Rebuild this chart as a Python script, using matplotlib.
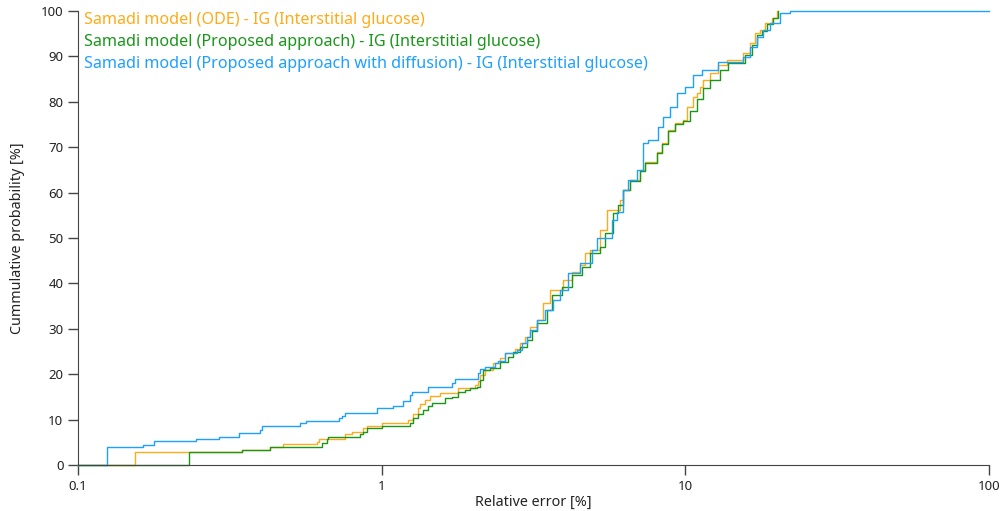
import matplotlib.pyplot as plt

# step points (relative error [%], cumulative probability [%])
ode_x = [0.1, 0.154, 0.3467, 0.4288, 0.4732, 0.612, 0.6216, 0.757, 0.798, 0.868, 0.895,
         1.002, 1.221, 1.268, 1.317, 1.337, 1.389, 1.442, 1.556, 1.783, 2.028, 2.075, 2.107,
         2.188, 2.326, 2.452, 2.547, 2.748, 2.854, 2.964, 3.078, 3.245, 3.397, 3.582, 3.954,
         4.233, 4.498, 4.67, 4.85, 5.234, 5.519, 6.09, 6.232, 6.571, 7.09, 7.36, 8.06, 8.38,
         8.76, 9.24, 9.82, 10.12, 10.59, 10.92, 11.17, 11.43, 12.05, 12.81, 13.71, 15.47,
         16.32, 16.95, 17.61, 18.29, 19.28, 20.03]
ode_y = [0, 2.9, 3.4, 4.0, 4.6, 5.1, 5.7, 6.8, 7.3, 8.1, 8.7,
         9.2, 9.9, 11.2, 12.5, 13.4, 14.3, 15.2, 15.9, 16.9, 17.6, 18.5, 19.8,
         20.9, 22.4, 23.5, 24.6, 25.5, 26.8, 28.3, 30.4, 32.0, 35.7, 38.5, 40.7,
         42.5, 44.0, 46.7, 47.4, 51.8, 56.2, 58.4, 60.6, 62.8, 65.0, 66.7, 69.0, 70.9,
         73.8, 75.3, 76.0, 78.9, 81.1, 82.0, 83.3, 84.8, 86.3, 88.1, 89.2, 90.7,
         93.0, 95.2, 95.8, 97.4, 98.5, 100]

prop_x = [0.1, 0.232, 0.3467, 0.4288, 0.636, 0.660, 0.666, 0.848, 0.868, 0.895, 1.002,
          1.240, 1.268, 1.317, 1.368, 1.420, 1.464, 1.616, 1.704, 1.783, 1.881, 1.953,
          2.060, 2.107, 2.156, 2.273, 2.452, 2.606, 2.706, 2.854, 3.009, 3.125, 3.245,
          3.502, 3.637, 3.924, 4.233, 4.566, 4.85, 5.234, 5.436, 5.776, 6.0, 6.232, 6.571,
          7.09, 7.36, 8.06, 8.38, 8.76, 9.24, 9.82, 10.35, 10.92, 11.43, 12.05, 13.0,
          13.81, 15.71, 16.57, 17.21, 17.88, 18.57, 19.43, 20.18]
prop_y = [0, 2.9, 3.4, 4.0, 4.8, 5.7, 6.2, 6.8, 7.3, 8.1, 8.6,
          9.2, 10.3, 11.2, 12.1, 13.0, 13.7, 14.7, 15.0, 16.1, 16.5, 16.9,
          17.2, 18.7, 20.9, 21.3, 22.6, 23.8, 24.8, 26.0, 27.5, 29.5, 31.3,
          34.1, 37.4, 39.2, 41.9, 43.6, 46.7, 48.0, 51.1, 55.5, 57.3, 60.6, 62.5,
          64.8, 66.5, 68.8, 70.7, 73.5, 75.0, 75.8, 78.0, 80.6, 83.0, 84.8, 87.0,
          88.5, 90.3, 92.5, 94.8, 95.6, 97.2, 98.4, 100]

diff_x = [0.1, 0.1246, 0.164, 0.178, 0.245, 0.291, 0.339, 0.3975, 0.4035, 0.538, 0.563,
          0.723, 0.740, 0.757, 0.965, 1.089, 1.175, 1.240, 1.259, 1.420, 1.704, 1.743,
          2.075, 2.107, 2.188, 2.361, 2.415, 2.547, 2.790, 2.897, 3.009, 3.078, 3.245,
          3.449, 3.664, 3.865, 4.106, 4.498, 4.925, 5.115, 5.733, 5.955, 6.232, 6.471,
          6.928, 7.25, 7.53, 8.12, 8.44, 8.90, 9.38, 9.97, 10.59, 11.34, 12.81, 15.47,
          16.32, 17.21, 18.01, 18.99, 20.49, 22.11, 100]
diff_y = [0, 4.0, 4.4, 5.3, 5.7, 6.2, 7.0, 7.8, 8.6, 9.2, 9.8,
          10.3, 10.9, 11.5, 12.6, 13.0, 14.2, 15.4, 16.1, 17.1, 18.1, 18.9,
          20.2, 21.1, 21.5, 22.4, 22.8, 24.6, 25.3, 26.8, 28.3, 29.7, 32.0,
          34.1, 36.3, 38.5, 42.3, 44.5, 47.4, 50.0, 54.0, 55.7, 60.6, 62.8,
          65.0, 70.9, 71.6, 74.4, 76.7, 78.9, 81.9, 83.3, 85.9, 87.0, 88.8, 89.9,
          92.1, 94.3, 95.8, 97.4, 99.6, 100, 100]

labels = ['Samadi model (ODE) - IG (Interstitial glucose)',
          'Samadi model (Proposed approach) - IG (Interstitial glucose)',
          'Samadi model (Proposed approach with diffusion) - IG (Interstitial glucose)']
colors = ['#ffab19', '#1a961a', '#1ea0ff']

plt.rcParams['font.family'] = ['Noto Sans', 'DejaVu Sans']

fig = plt.figure(figsize=(10.06, 5.11), dpi=100)
ax = fig.add_axes([0.0775, 0.09, 0.9055, 0.8885])

series = [(ode_x, ode_y), (prop_x, prop_y), (diff_x, diff_y)]
for (xs, ys), lab, col in zip(series, labels, colors):
    ax.plot(xs, ys, drawstyle='steps-post', color=col, lw=1.0, label=lab, clip_on=False)

ax.set_xscale('log')
ax.set_xlim(0.1, 100)
ax.set_ylim(0, 100)
ax.set_xticks([0.1, 1, 10, 100])
ax.set_xticklabels(['0.1', '1', '10', '100'])
ax.minorticks_off()
ax.set_yticks(range(0, 101, 10))

for s in ['top', 'right']:
    ax.spines[s].set_visible(False)
for s in ['left', 'bottom']:
    ax.spines[s].set_color('#444444')
ax.tick_params(length=7, width=1, color='#444444', labelsize=9.5, labelcolor='#222222')

ax.set_xlabel('Relative error [%]', fontsize=10.3, color='#222222', labelpad=2)
ax.set_ylabel('Cummulative probability [%]', fontsize=10.3, color='#222222', labelpad=11)

leg = ax.legend(loc='upper left', bbox_to_anchor=(0.0, 1.012), frameon=False,
                handlelength=0, handletextpad=0, labelspacing=0.38, fontsize=11.6,
                labelcolor='linecolor', borderaxespad=0)
for h in leg.legend_handles:
    h.set_visible(False)

plt.savefig('out.png', dpi=100)
